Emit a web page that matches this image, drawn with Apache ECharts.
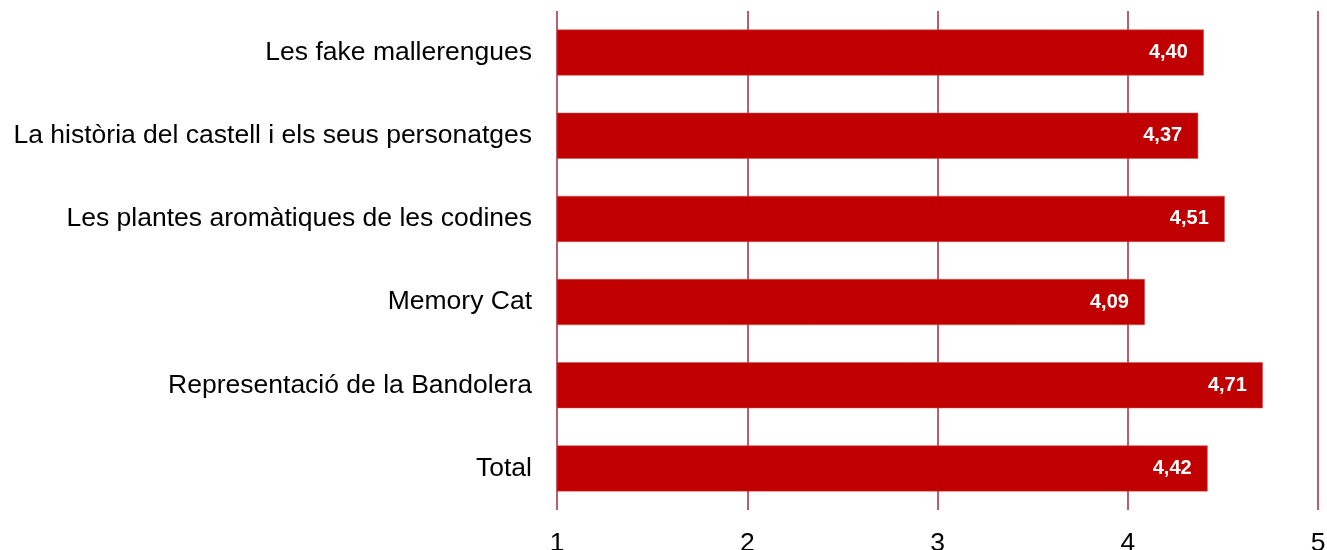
<!DOCTYPE html>
<html><head><meta charset="utf-8">
<script src="https://cdn.jsdelivr.net/npm/echarts@6/dist/echarts.min.js"></script>
<style>html,body{margin:0;padding:0;background:#fff}#c{width:1327px;height:550px}</style>
</head><body><div id="c"></div>
<script>
const categories = ["Les fake mallerengues","La història del castell i els seus personatges","Les plantes aromàtiques de les codines","Memory Cat","Representació de la Bandolera","Total"];
const values = [4.40, 4.37, 4.51, 4.09, 4.71, 4.42];
const xTicks = [1, 2, 3, 4, 5];

const chart = echarts.init(document.getElementById('c'), null, {renderer: 'canvas'});
chart.setOption({
  animation: false,
  grid: {left: 557, right: 9, top: 11, bottom: 40, containLabel: false, outerBoundsMode: 'none'},
  xAxis: {
    type: 'value', min: xTicks[0], max: xTicks[xTicks.length-1], interval: 1,
    axisLine: {show: false}, axisTick: {show: false},
    splitLine: {show: true, lineStyle: {color: '#A3293A', width: 1.5}},
    axisLabel: {color: '#000', fontSize: 26.5, fontFamily: 'Liberation Sans, Arial', margin: 20, formatter: v => String(v)}
  },
  yAxis: {
    type: 'category', data: categories, inverse: true,
    axisLine: {show: false}, axisTick: {show: false},
    axisLabel: {color: '#000', fontSize: 26.5, fontFamily: 'Liberation Sans, Arial', margin: 25}
  },
  series: [{
    type: 'bar', data: values, barWidth: 46,
    itemStyle: {color: '#C00000', borderColor: '#D65050', borderWidth: 0.5},
    label: {
      show: true, position: 'insideRight', distance: 16,
      color: '#fff', fontWeight: 'bold', fontSize: 20, fontFamily: 'Liberation Sans, Arial',
      formatter: p => p.value.toFixed(2).replace('.', ',')
    }
  }]
});
</script></body></html>
